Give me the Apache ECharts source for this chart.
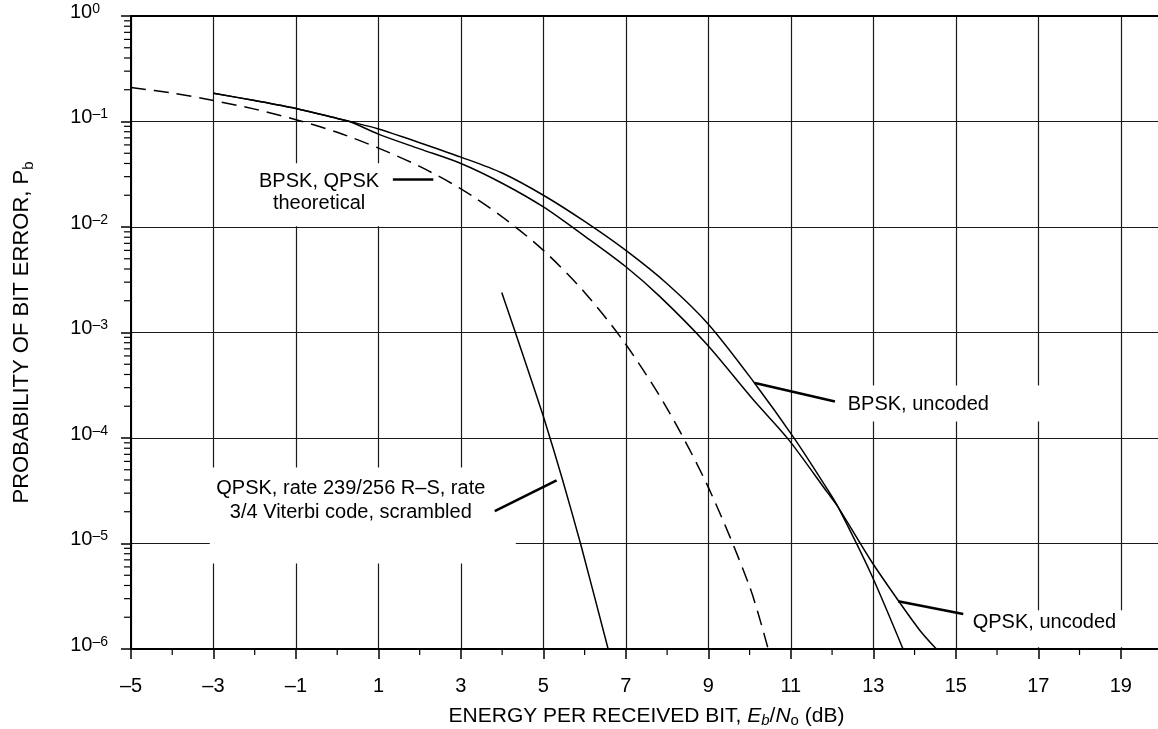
<!DOCTYPE html>
<html><head><meta charset="utf-8">
<script src="https://cdn.jsdelivr.net/npm/echarts@6/dist/echarts.min.js"></script>
<style>html,body{margin:0;padding:0;background:#fff}#c{width:1158px;height:729px}</style>
</head><body><div id="c"></div>
<script>
const FONT = '"Liberation Sans", Arial, Helvetica, sans-serif';

// ---- axis structure ----
const xTickValues = [-5, -3, -1, 1, 3, 5, 7, 9, 11, 13, 15, 17, 19];
const xMinorValues = [-4, -2, 0, 2, 4, 6, 8, 10, 12, 14, 16, 18];
const yDecadeExponents = [-6, -5, -4, -3, -2, -1];

// ---- data (Eb/No in dB, bit error probability) ----
const theoryX = [-5, -4, -3, -2, -1, 0, 1, 2, 3, 4, 5, 6, 7, 8, 9, 10, 10.45];
const theoryP = [0.21, 0.186, 0.158, 0.131, 0.104, 0.079, 0.056, 0.0375, 0.023, 0.0125, 0.006, 0.0024, 7.7e-4, 1.9e-4, 3.4e-5, 3.9e-6, 1.0e-6];

const bpskX = [-3, -2, -1, 0, 0.3, 1, 2, 3, 4, 5, 6, 7, 8, 9, 10.1, 11.1, 11.9, 12.15, 12.94, 13.72];
const bpskP = [0.185, 0.158, 0.133, 0.107, 0.100, 0.085, 0.063, 0.046, 0.0325, 0.020, 0.0113, 0.0060, 0.0029, 0.0012, 3.4e-4, 9.7e-5, 3.2e-5, 2.2e-5, 5.2e-6, 1.0e-6];

const qpskX = [-3, -2, -1, 0, 0.3, 1, 2, 3, 4, 5, 6, 7, 7.82, 8.94, 10.09, 10.94, 11.9, 12.15, 12.94, 13.6, 14.13, 14.53];
const qpskP = [0.185, 0.158, 0.133, 0.107, 0.100, 0.076, 0.055, 0.040, 0.026, 0.0155, 0.0082, 0.0042, 0.0022, 7.9e-4, 2.3e-4, 9.7e-5, 3.0e-5, 2.2e-5, 6.9e-6, 2.9e-6, 1.5e-6, 1.0e-6];

const rsX = [3.99, 4.5, 5.0, 5.45, 5.9, 6.57];
const rsP = [2.4e-3, 6.2e-4, 1.6e-4, 4.2e-5, 1.0e-5, 1.0e-6];

// ---- annotations (anchors in data units) ----
const annotations = [
  { text: 'BPSK, QPSK\ntheoretical', at: [-0.44, 0.0214], align: 'center', lineHeight: 22,
    box: [-79, -29, 145, 63], leader: [[1.35, 0.0282], [2.33, 0.0282]] },
  { text: 'QPSK, rate 239/256 R\u2013S, rate\n3/4 Viterbi code, scrambled', at: [0.33, 2.56e-5], align: 'center', lineHeight: 24,
    box: [-141, -33, 306, 96], leader: [[3.82, 2.03e-5], [5.32, 3.96e-5]] },
  { text: 'BPSK, uncoded', at: [12.38, 2.08e-4], align: 'left', lineHeight: 22,
    box: [-8, -19, 205, 36], leader: [[10.13, 3.32e-4], [12.07, 2.22e-4]] },
  { text: 'QPSK, uncoded', at: [15.41, 1.79e-6], align: 'left', lineHeight: 22,
    box: [-8, -12, 160, 37], leader: [[13.60, 2.84e-6], [15.18, 2.15e-6]] }
];

function pairs(xs, ps) { return xs.map((x, i) => [x, ps[i]]); }

// minor tick positions (axis structure)
const minorTickData = [];
yDecadeExponents.forEach(e => { for (let m = 2; m <= 9; m++) minorTickData.push([-5, m * Math.pow(10, e), 0]); });
xMinorValues.forEach(v => minorTickData.push([v, 1e-6, 1]));

const chart = echarts.init(document.getElementById('c'), null, { renderer: 'canvas' });
const lineBase = { type: 'line', symbol: 'none', showSymbol: false, smooth: 0.3, z: 2, animation: false };

chart.setOption({
  animation: false,
  backgroundColor: '#fff',
  grid: { left: 131, right: -4, top: 16, bottom: 80, containLabel: false, outerBoundsMode: 'none' },
  xAxis: [{
    type: 'value', min: -5, max: 20, interval: 1,
    axisLine: { show: true, onZero: false, lineStyle: { color: '#000', width: 2 } },
    axisTick: { show: true, customValues: xTickValues, length: 10, lineStyle: { color: '#000', width: 1.5 } },
    axisLabel: { customValues: xTickValues, formatter: v => (v < 0 ? '\u2013' + (-v) : String(v)),
      fontSize: 20, fontFamily: FONT, color: '#000', margin: 27 },
    splitLine: { show: true, lineStyle: { color: '#1a1a1a', width: 1.2 } },
    name: 'ENERGY PER RECEIVED BIT, {i|E}{ib|b}/{i|N}{sub|o} (dB)',
    nameLocation: 'middle', nameGap: 55,
    nameTextStyle: { fontSize: 21, fontFamily: FONT, color: '#000', lineHeight: 24,
      rich: {
        i: { fontSize: 21, fontFamily: FONT, fontStyle: 'italic', color: '#000', lineHeight: 24 },
        ib: { fontSize: 15, fontFamily: FONT, fontStyle: 'italic', color: '#000', lineHeight: 15, verticalAlign: 'bottom' },
        sub: { fontSize: 15, fontFamily: FONT, color: '#000', lineHeight: 15, verticalAlign: 'bottom' }
      } }
  }, {
    type: 'value', min: -5, max: 20, position: 'top',
    axisLine: { show: true, onZero: false, lineStyle: { color: '#000', width: 2 } },
    axisTick: { show: false }, axisLabel: { show: false }, splitLine: { show: false }
  }],
  yAxis: {
    type: 'log', logBase: 10, min: 1e-6, max: 1,
    axisLine: { show: true, onZero: false, lineStyle: { color: '#000', width: 2 } },
    axisTick: { show: true, length: 10, lineStyle: { color: '#000', width: 1.5 } },
    axisLabel: {
      margin: 23, padding: [0, 0, 8, 0],
      formatter: v => {
        const e = Math.round(Math.log10(v));
        return e < 0 ? '{b|10}{s|\u2013' + (-e) + '}' : '{b|10}{s0|' + e + '}';
      },
      rich: {
        b: { fontSize: 20, fontFamily: FONT, color: '#000', lineHeight: 20 },
        s: { fontSize: 14, fontFamily: FONT, color: '#000', lineHeight: 14, verticalAlign: 'top' },
        s0: { fontSize: 14, fontFamily: FONT, color: '#000', lineHeight: 14, verticalAlign: 'top', padding: [0, 8, 0, 0] }
      }
    },
    splitLine: { show: true, lineStyle: { color: '#1a1a1a', width: 1.2 } },
    name: 'PROBABILITY OF BIT ERROR, P{sub|b}',
    nameLocation: 'middle', nameGap: 95, nameRotate: 90,
    nameTextStyle: { fontSize: 22, fontFamily: FONT, color: '#000', lineHeight: 28,
      rich: { sub: { fontSize: 15, fontFamily: FONT, color: '#000', lineHeight: 15, verticalAlign: 'bottom' } } }
  },
  series: [
    Object.assign({}, lineBase, { name: 'BPSK, QPSK theoretical', data: pairs(theoryX, theoryP),
      lineStyle: { color: '#000', width: 1.5, type: [15, 8] } }),
    Object.assign({}, lineBase, { name: 'BPSK, uncoded', data: pairs(bpskX, bpskP),
      lineStyle: { color: '#000', width: 1.5 } }),
    Object.assign({}, lineBase, { name: 'QPSK, uncoded', data: pairs(qpskX, qpskP),
      lineStyle: { color: '#000', width: 1.5 } }),
    Object.assign({}, lineBase, { name: 'QPSK, rate 239/256 R-S, rate 3/4 Viterbi', data: pairs(rsX, rsP), smooth: 0.2,
      lineStyle: { color: '#000', width: 1.5 } }),
    {
      type: 'custom', name: 'minorTicks', clip: false, z: 5, silent: true,
      data: minorTickData,
      renderItem: function (params, api) {
        const p = api.coord([api.value(0), api.value(1)]);
        const kind = api.value(2);
        const shape = kind === 0 ? { x1: p[0] - 7, y1: p[1], x2: p[0], y2: p[1] }
                                 : { x1: p[0], y1: p[1], x2: p[0], y2: p[1] + 6 };
        return { type: 'line', shape: shape, style: { stroke: '#000', lineWidth: 1.2 } };
      }
    },
    {
      type: 'custom', name: 'annotations', clip: false, z: 4, silent: true,
      data: annotations.map(a => [a.at[0], a.at[1]]),
      renderItem: function (params, api) {
        const a = annotations[params.dataIndex];
        const c = api.coord(a.at);
        const l0 = api.coord(a.leader[0]);
        const l1 = api.coord(a.leader[1]);
        return {
          type: 'group',
          children: [
            { type: 'rect', shape: { x: c[0] + a.box[0], y: c[1] + a.box[1], width: a.box[2], height: a.box[3] },
              style: { fill: '#fff' } },
            { type: 'line', shape: { x1: l0[0], y1: l0[1], x2: l1[0], y2: l1[1] },
              style: { stroke: '#000', lineWidth: 2.6 } },
            { type: 'text', x: c[0], y: c[1],
              style: { text: a.text, fontSize: 20, fontFamily: FONT, fill: '#000',
                align: a.align, verticalAlign: 'middle', lineHeight: a.lineHeight } }
          ]
        };
      }
    }
  ]
});
</script>
</body></html>
